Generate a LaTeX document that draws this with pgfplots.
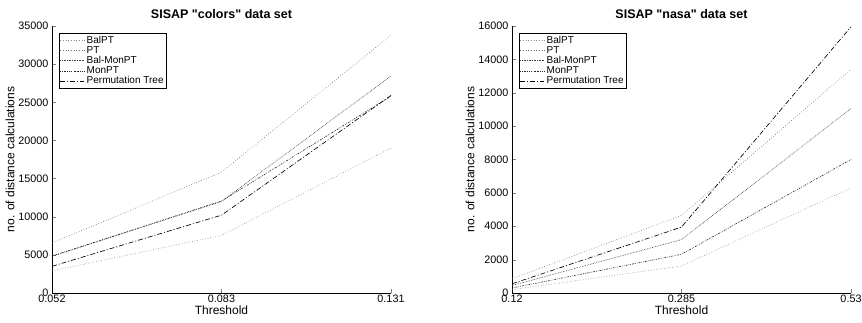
\documentclass[border=0pt]{standalone}
\usepackage{fontspec}
\setmainfont{Liberation Sans}
\newfontfamily\qfont{Liberation Sans}
\newcommand{\dq}{{\qfont"}}
\usepackage{pgfplots}
\pgfplotsset{compat=1.18}
\pgfplotsset{
  mystyle/.style={
    scale only axis, width=339pt, height=267pt,
    axis x line*=bottom, axis y line*=left,
    tick align=inside,
    xmin=0, xmax=2, ymin=0,
    xtick={0,1,2},
    scaled y ticks=false,
    /pgf/number format/1000 sep={},
    /pgf/number format/assume math mode=true,
    tick label style={font=\fontsize{10.8}{11}\selectfont},
    xticklabel style={yshift=1.5pt},
    label style={font=\fontsize{12}{13}\selectfont},
    title style={font=\fontsize{12.5}{13}\selectfont\bfseries, yshift=-2pt},
    xlabel={Threshold},
    ylabel={no. of distance calculations},
    xlabel style={yshift=3.5pt},
    ylabel style={yshift=-3pt},
    every axis plot/.append style={line width=0.65pt},
    legend cell align=left,
    legend style={at={(7pt,260pt)}, anchor=north west, draw=black, line width=0.5pt,
      font=\fontsize{10}{10.3}\selectfont, inner sep=0.8pt, row sep=-2.4pt, fill=white},
    legend image code/.code={\draw[#1] (0pt,0pt) -- (24pt,0pt);},
  },
  sBal/.style={color=black!45, dotted},
  sPT/.style={color=black!55, dotted},
  sBalMon/.style={color=black!75, densely dotted},
  sMon/.style={color=black!85, dash pattern=on 0.6pt off 1.2pt on 0.6pt off 1.2pt on 1.8pt off 1.2pt},
  sPerm/.style={color=black, dash pattern=on 5pt off 2pt on 1pt off 2pt},
}
\begin{document}
\begin{tikzpicture}
\useasboundingbox (-52pt,-30pt) rectangle (810pt,293pt);
\begin{axis}[mystyle,
  title={SISAP \dq colors\dq\ data set},
  ymax=35000, ytick={0,5000,...,35000},
  xticklabels={0.052,0.083,0.131}]
\addplot[sBal] coordinates {(0,2900) (1,7550) (2,19000)};
\addplot[sPT] coordinates {(0,6550) (1,15850) (2,33800)};
\addplot[sBalMon] coordinates {(0,4800) (1,12000) (2,28450)};
\addplot[sMon] coordinates {(0,4850) (1,12050) (2,25800)};
\addplot[sPerm] coordinates {(0,3500) (1,10200) (2,25900)};
\legend{BalPT,PT,Bal-MonPT,MonPT,Permutation Tree}
\end{axis}
\begin{axis}[mystyle, xshift=460pt,
  title={SISAP \dq nasa\dq\ data set},
  ymax=16000, ytick={0,2000,...,16000},
  xticklabels={0.12,0.285,0.53}]
\addplot[sBal] coordinates {(0,200) (1,1620) (2,6300)};
\addplot[sPT] coordinates {(0,850) (1,4650) (2,13400)};
\addplot[sBalMon] coordinates {(0,450) (1,3200) (2,11050)};
\addplot[sMon] coordinates {(0,300) (1,2320) (2,8000)};
\addplot[sPerm] coordinates {(0,550) (1,3950) (2,15950)};
\legend{BalPT,PT,Bal-MonPT,MonPT,Permutation Tree}
\end{axis}
\end{tikzpicture}
\end{document}
